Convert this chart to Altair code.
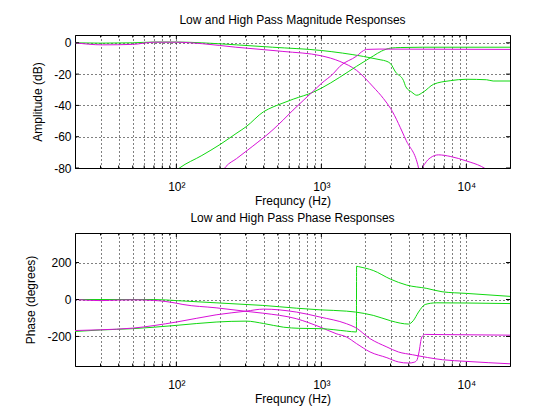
import altair as alt
import pandas as pd

FONT = "Liberation Sans"
GREEN = "#10d810"
MAGENTA = "#d810d8"
W, H = 435, 133

# ---------------- magnitude responses (dB) ----------------
mag_g_lp_f = [20, 30, 50, 70, 100, 150, 260, 460, 1000, 1950, 2540, 2680, 3000, 3250, 3680, 3830, 4200, 4550, 5060, 5940, 7740, 10000, 13800, 15300, 20000]
mag_g_lp_v = [0, -0.2, 0, 0.5, 0.5, 0, -1.3, -2.8, -4.9, -8.7, -10.8, -11.2, -13.3, -18.7, -24, -28.2, -31.5, -33.5, -31.4, -26.5, -24.2, -23.3, -23.6, -24.4, -24.4]

mag_m_lp_f = [20, 31, 50, 70, 100, 152, 257, 464, 543, 1000, 1343, 1750, 2280, 2680, 3000, 3850, 4680, 4750, 4830, 4920, 4990, 5200, 5640, 6420, 7740, 10000, 12700, 15000, 20000]
mag_m_lp_v = [0, -1.3, -1, 0.4, 0.4, -0.6, -2.8, -4.9, -5.5, -8.3, -11.9, -17.6, -28.2, -35.6, -41.9, -62.5, -80, -90, -110, -92, -80, -77, -73.5, -71.6, -72.6, -75.5, -79, -83, -90]

mag_g_hp_f = [90, 105, 150, 200, 258, 303, 400, 464, 543, 640, 880, 1000, 1340, 1750, 2280, 2600, 3000, 3500, 5000, 20000]
mag_g_hp_v = [-85, -80, -72, -65, -58, -53.6, -44, -41, -38.5, -36, -31.5, -29, -22, -15, -8.4, -5.3, -3.4, -3, -2.8, -2.8]

mag_m_hp_f = [190, 220, 260, 337, 464, 543, 638, 877, 1000, 1208, 1343, 1750, 1950, 2050, 2500, 20000]
mag_m_hp_v = [-88, -79, -74, -66, -55.5, -49.5, -43, -31, -26, -19.7, -15, -8.5, -5, -4.2, -4, -4.2]

# ---------------- phase responses (degrees) ----------------
ph_g_lp_f = [20, 70, 100, 188, 303, 395, 672, 980, 1490, 1720, 2280, 3000, 3500, 3990, 4300, 4680, 5200, 6200, 10000, 20000]
ph_g_lp_v = [0, 0, -6, -18, -27, -32, -47, -56, -63, -68, -86, -115, -128, -133, -115, -68, -27, -18, -19, -22]

ph_m_lp_f = [20, 30, 40, 50, 70, 100, 111, 188, 303, 395, 672, 980, 1265, 1490, 1750, 2167, 2830, 3400, 3990, 4350, 4550, 4700, 4930, 5200, 7000, 20000]
ph_m_lp_v = [0, -6, -3, -2, -5, -20, -27, -45, -64, -74, -104, -149, -185, -203, -239, -284, -315, -338, -344, -340, -330, -290, -203, -189, -190, -193]

ph_g_hp_f = [20, 30, 50, 100, 188, 303, 400, 550, 700, 1000, 1490, 1745, 1750, 1800, 2280, 3000, 3880, 5340, 6800, 10000, 20000]
ph_g_hp_v = [-173, -165, -158, -140, -122, -117, -130, -150, -156, -158, -171, -176, 180, 178, 157, 110, 78, 60, 42, 33, 17]

ph_m_hp_f = [20, 30, 50, 100, 188, 303, 400, 672, 980, 1490, 1720, 2167, 2830, 3400, 4250, 6850, 10000, 20000]
ph_m_hp_v = [-168, -164, -155, -122, -83, -63, -52, -68, -95, -131, -152, -212, -257, -284, -299, -326, -335, -348]

# ---------------- axes ticks / grid ----------------
x_grid = [20, 30, 40, 50, 60, 70, 80, 90, 100, 200, 300, 400, 500, 600, 700, 800, 900,
          1000, 2000, 3000, 4000, 5000, 6000, 7000, 8000, 9000, 10000, 20000]
x_major = [100, 1000, 10000]
x_minor = [30, 40, 50, 60, 70, 80, 90, 200, 300, 400, 500, 600, 700, 800, 900,
           2000, 3000, 4000, 5000, 6000, 7000, 8000, 9000]
mag_ticks = [-80, -60, -40, -20, 0]
ph_ticks = [-200, 0, 200]

label_expr = ("datum.value == 100 ? '10\u00b2' : datum.value == 1000 ? '10\u00b3' : "
              "datum.value == 10000 ? '10\u2074' : ''")


def series(f, v, name):
    return pd.DataFrame({"f": f, "v": v, "s": name})


def panel(curves, ydom, yticks, ytitle, title):
    df = pd.concat(curves, ignore_index=True)
    xs = alt.Scale(type="log", domain=[20, 20000], nice=False)
    ys = alt.Scale(domain=ydom, nice=False, zero=False)
    xaxis = alt.Axis(values=x_grid, labelExpr=label_expr, title="Frequncy (Hz)",
                     ticks=False, tickSize=0, domain=False, grid=True,
                     gridDash=[1, 3], gridColor="black", gridOpacity=1, gridWidth=1,
                     labelPadding=13, titlePadding=3, labelFlush=False, labelOverlap=False,
                     labelFont=FONT, titleFont=FONT, labelFontSize=12, titleFontSize=12,
                     titleFontWeight="normal", labelColor="black", titleColor="black")
    yaxis = alt.Axis(values=yticks, labelExpr="datum.value + ''", title=ytitle,
                     ticks=False, tickSize=0, domain=False,
                     grid=True, gridDash=[1, 3], gridColor="black", gridOpacity=1,
                     gridWidth=1, labelPadding=4, titlePadding=9, labelFlush=False,
                     labelFont=FONT, titleFont=FONT, labelFontSize=12, titleFontSize=12,
                     titleFontWeight="normal", labelColor="black", titleColor="black")
    lines = alt.Chart(df).mark_line(clip=True, strokeWidth=1, interpolate="monotone").encode(
        x=alt.X("f:Q", scale=xs, axis=xaxis),
        y=alt.Y("v:Q", scale=ys, axis=yaxis),
        color=alt.Color("s:N", scale=alt.Scale(domain=["g_lp", "m_lp", "g_hp", "m_hp"],
                                                 range=[GREEN, MAGENTA, GREEN, MAGENTA]),
                        legend=None),
        detail="s:N",
    )
    xt_major = pd.DataFrame({"f": x_major})
    xt_minor = pd.DataFrame({"f": x_minor})
    yt = pd.DataFrame({"v": yticks})
    layers = [lines]
    for data, ln in ((xt_major, 4), (xt_minor, 2.5)):
        base = alt.Chart(data).mark_rule(color="black", strokeWidth=1)
        layers.append(base.encode(x=alt.X("f:Q", scale=xs, axis=xaxis),
                                  y=alt.value(H), y2=alt.value(H - ln)))
        layers.append(base.encode(x=alt.X("f:Q", scale=xs, axis=xaxis),
                                  y=alt.value(0), y2=alt.value(ln)))
    ybase = alt.Chart(yt).mark_rule(color="black", strokeWidth=1)
    layers.append(ybase.encode(y=alt.Y("v:Q", scale=ys, axis=yaxis),
                               x=alt.value(0), x2=alt.value(4)))
    layers.append(ybase.encode(y=alt.Y("v:Q", scale=ys, axis=yaxis),
                               x=alt.value(W - 4), x2=alt.value(W)))
    return alt.layer(*layers).properties(
        width=W, height=H,
        title=alt.TitleParams(title, font=FONT, fontSize=12, fontWeight="normal",
                              color="black", anchor="middle", baseline="bottom",
                              offset=-4),
    )


top = panel([series(mag_g_lp_f, mag_g_lp_v, "g_lp"), series(mag_m_lp_f, mag_m_lp_v, "m_lp"),
             series(mag_g_hp_f, mag_g_hp_v, "g_hp"), series(mag_m_hp_f, mag_m_hp_v, "m_hp")],
            [-80, 5], mag_ticks, "Amplitude (dB)", "Low and High Pass Magnitude Responses")
bottom = panel([series(ph_g_lp_f, ph_g_lp_v, "g_lp"), series(ph_m_lp_f, ph_m_lp_v, "m_lp"),
                series(ph_g_hp_f, ph_g_hp_v, "g_hp"), series(ph_m_hp_f, ph_m_hp_v, "m_hp")],
               [-360, 360], ph_ticks, "Phase (degrees)", "Low and High Pass Phase Responses")

chart = alt.vconcat(top, bottom, spacing=4).properties(
    padding={"left": 16, "top": 5, "right": 5, "bottom": 5},
    background="white",
).configure_view(stroke="black", strokeWidth=1)

chart.save("out.html", embed_options={"renderer": "svg", "actions": False})
